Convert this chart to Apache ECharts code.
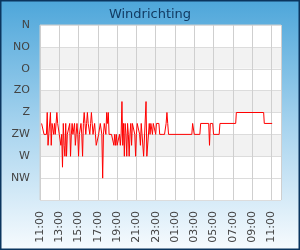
<!DOCTYPE html>
<html><head><meta charset="utf-8">
<script src="https://cdn.jsdelivr.net/npm/echarts/dist/echarts.min.js"></script>
<style>html,body{margin:0;padding:0;background:#fff;}#c{width:300px;height:250px;}</style>
</head><body><div id="c"></div>
<script>
const chartTitle = 'Windrichting';
const yLabels = ['N', 'NO', 'O', 'ZO', 'Z', 'ZW', 'W', 'NW'];
const compass16 = ['N','NNO','NO','ONO','O','OZO','ZO','ZZO','Z','ZZW','ZW','WZW','W','WNW','NW','NNW'];
const xTickLabels = ['11:00','13:00','15:00','17:00','19:00','21:00','23:00','01:00','03:00','05:00','07:00','09:00','11:00'];

const times = [
  '11:10','11:15','11:20','11:25','11:30','11:35','11:40','11:45','11:50','11:55',
  '12:00','12:05','12:10','12:15','12:20','12:25','12:30','12:35','12:40','12:45','12:50','12:55',
  '13:00','13:05','13:10','13:15','13:20','13:25','13:30','13:35','13:40','13:45','13:50','13:55',
  '14:00','14:05','14:10','14:15','14:20','14:25','14:30','14:35','14:40','14:45','14:50','14:55',
  '15:00','15:05','15:10','15:15','15:20','15:25','15:30','15:35','15:40','15:45','15:50','15:55',
  '16:00','16:05','16:10','16:15','16:20','16:25','16:30','16:35','16:40','16:45','16:50','16:55',
  '17:00','17:05','17:10','17:15','17:20','17:25','17:30','17:35','17:40','17:45','17:50','17:55',
  '18:00','18:05','18:10','18:15','18:20','18:25','18:30','18:35','18:40','18:45','18:50','18:55',
  '19:00','19:05','19:10','19:15','19:20','19:25','19:30','19:35','19:40','19:45','19:50','19:55',
  '20:00','20:05','20:10','20:15','20:20','20:25','20:30','20:35','20:40','20:45','20:50','20:55',
  '21:00','21:05','21:10','21:15','21:20','21:25','21:30','21:35','21:40','21:45','21:50','21:55',
  '22:00','22:05','22:10','22:15','22:20','22:25','22:30','22:35','22:40','22:45','22:50','22:55',
  '23:00','23:05','23:10','23:15','23:20','23:25','23:30','23:35','23:40','23:45','23:50','23:55',
  '00:00','00:05','00:10','00:15','00:20','00:25',
  '02:45','02:50','02:55','03:00','03:05','03:35','03:40','04:30','04:35','04:40','04:45','04:55','05:00',
  '05:35','05:40','07:18','07:22','10:12','10:16','11:05'
];
const directions = [
  'ZZW','ZZW','ZZW','ZW','ZW','ZW','ZW','Z','WZW','ZW',
  'ZW','Z','WZW','ZZW','ZZW','ZW','ZZW','ZW','ZW','Z','ZZW','ZZW',
  'ZW','ZW','WZW','ZW','WNW','ZZW','WZW','W','ZZW','W','ZW','ZW',
  'ZW','ZZW','W','ZW','ZZW','ZW','ZW','ZZW','WZW','ZW','ZZW','ZW',
  'W','ZW','ZW','ZZW','ZW','W','ZZW','Z','ZZW','ZW','ZZW','Z',
  'ZZW','ZZW','ZW','ZZW','Z','ZZW','ZW','ZW','ZZW','ZW','WZW','WZW',
  'WZW','ZW','ZW','ZZW','ZZW','ZW','NW','ZW','ZZW','ZZW','ZW','Z',
  'ZZW','Z','ZW','ZW','ZW','ZW','ZW','ZW','WZW','ZW','WZW','ZW',
  'WZW','WZW','WZW','ZW','WZW','ZW','ZZO','WZW','ZZW','W','ZZW','ZW',
  'W','ZZW','ZW','W','ZW','ZZW','WZW','ZZW','ZZW','ZZW','ZW','W',
  'ZW','ZZW','ZZW','ZZW','ZW','WZW','ZZW','ZZW','ZZW','W','W','W',
  'ZZO','W','W','W','ZZW','ZW','ZZW','ZZW','ZW','ZZW','ZZW','ZZW',
  'ZW','ZZW','ZZW','ZZW','ZZW','ZW','ZW','ZW','ZW','ZW','ZW','ZW',
  'ZW','ZZW','Z','ZZW','ZW','ZW',
  'ZW','ZZW','ZZW','ZW','ZW','ZW','ZZW','ZZW','WZW','ZZW','ZZW','ZZW','ZW',
  'ZW','ZZW','ZZW','Z','Z','ZZW','ZZW'
];

// hours since 11:00 on the first day (day rolls over when the clock decreases)
const points = [];
let dayOffset = 0, prev = -1;
times.forEach((t, i) => {
  const [hh, mm] = t.split(':').map(Number);
  const m = hh * 60 + mm;
  if (m < prev) dayOffset += 24 * 60;
  prev = m;
  points.push([(m + dayOffset - 11 * 60) / 60, compass16.indexOf(directions[i]) / 2]);
});

const chart = echarts.init(document.getElementById('c'), null, { renderer: 'canvas' });
const font = 'DejaVu Sans';
chart.setOption({
  animation: false,
  backgroundColor: {
    type: 'linear', x: 0, y: 0, x2: 0, y2: 1,
    colorStops: [
      { offset: 0, color: '#4da6da' },
      { offset: 0.5, color: '#a6d3ee' },
      { offset: 1, color: '#f7fbfe' }
    ]
  },
  title: {
    text: chartTitle, left: 'center', top: 3,
    textStyle: { fontFamily: font, fontSize: 13, fontWeight: 'normal', color: '#123b63' }
  },
  graphic: [{
    type: 'rect', shape: { x: 0.75, y: 0.75, width: 298.5, height: 248.5 },
    style: { fill: 'none', stroke: '#0b355e', lineWidth: 1.5 }, silent: true, z: 100
  }],
  grid: {
    left: 40, right: 19, top: 25, bottom: 50, show: true,
    backgroundColor: '#ffffff', borderColor: '#cfcfcf', borderWidth: 1
  },
  xAxis: {
    type: 'value', min: 0, max: 25, interval: 2,
    axisLine: { show: false }, axisTick: { show: false },
    splitLine: { show: true, lineStyle: { color: '#cfcfcf', width: 1 } },
    axisLabel: {
      rotate: 90, margin: 11, fontFamily: font, fontSize: 11, color: '#444',
      formatter: v => (xTickLabels[v / 2] !== undefined ? xTickLabels[v / 2] : '')
    }
  },
  yAxis: {
    type: 'value', inverse: true, min: 0, max: 8, interval: 1,
    axisLine: { show: false }, axisTick: { show: false },
    splitLine: { show: true, lineStyle: { color: '#dcdcdc', width: 1 } },
    splitArea: { show: true, areaStyle: { color: ['#ffffff','#f2f2f2','#ffffff','#f2f2f2','#ffffff','#f2f2f2','#ffffff','#ffffff'] } },
    axisLabel: {
      margin: 10, fontFamily: font, fontSize: 11, color: '#444',
      formatter: v => yLabels[v] || ''
    }
  },
  series: [{
    type: 'line', data: points, showSymbol: false, symbol: 'none',
    lineStyle: { color: '#ff0000', width: 1 }, z: 5
  }]
});
</script></body></html>
